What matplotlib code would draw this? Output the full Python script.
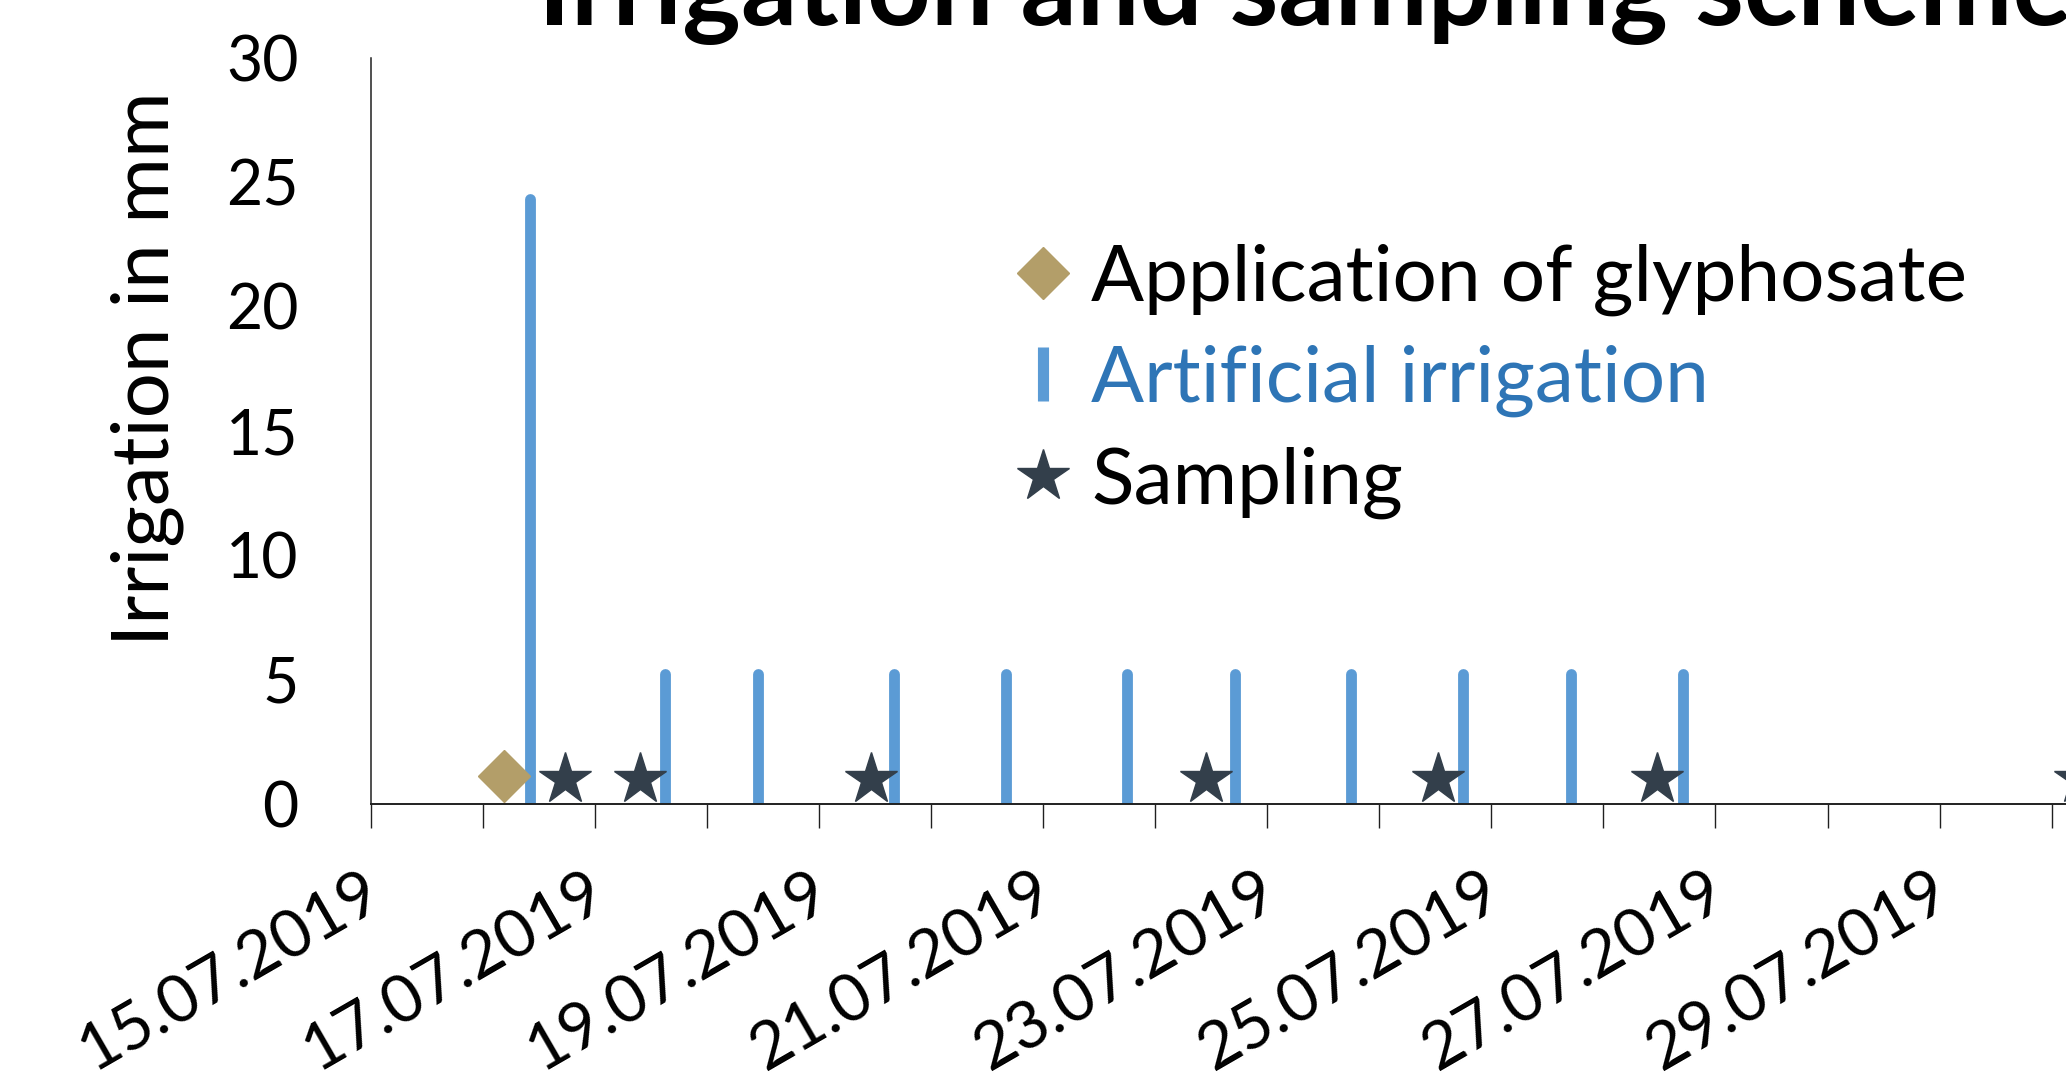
import matplotlib
matplotlib.use("Agg")
import matplotlib.pyplot as plt
import matplotlib.dates as mdates
import matplotlib.transforms as mtransforms
from matplotlib.lines import Line2D
import pandas as pd

plt.rcParams['font.family'] = ['Lato', 'DejaVu Sans']

# ---------------- data ----------------
title = "Irrigation and sampling scheme"
y_label = "Irrigation in mm"
legend_labels = ["Application of glyphosate", "Artificial irrigation", "Sampling"]

glyphosate_times = ["2019-07-16 04:30"]
glyphosate_y = [1.1]

irrigation_times = ["2019-07-16 10:00", "2019-07-17 15:00", "2019-07-18 11:00",
                    "2019-07-19 16:00", "2019-07-20 16:00", "2019-07-21 18:00",
                    "2019-07-22 17:00", "2019-07-23 18:00", "2019-07-24 18:00",
                    "2019-07-25 17:00", "2019-07-26 17:00"]
irrigation_mm = [24.3, 5.2, 5.2, 5.2, 5.2, 5.2, 5.2, 5.2, 5.2, 5.2, 5.2]

sampling_times = ["2019-07-16 17:30", "2019-07-17 09:40", "2019-07-19 11:00",
                  "2019-07-22 10:50", "2019-07-24 12:30", "2019-07-26 11:30",
                  "2019-07-30 06:00"]
sampling_y = [1, 1, 1, 1, 1, 1, 1]

x_start = "2019-07-15"
x_end = "2019-07-30 19:00"
y_ticks = [0, 5, 10, 15, 20, 25, 30]

# ---------------- style ----------------
c_diamond = "#B39E69"
c_bar = "#5B9BD5"
c_star = "#333F4B"
c_blue_text = "#2E75B6"

W, H = 2066, 1083
fig = plt.figure(figsize=(W / 100, H / 100), dpi=100)

px_per_day = 112.04
ax_left = 371.0
ax_bottom_px = 803.7
ax_top_px = 57.5

t0 = mdates.date2num(pd.Timestamp(x_start))
t1 = mdates.date2num(pd.Timestamp(x_end))
ax_w = (t1 - t0) * px_per_day
ax = fig.add_axes([ax_left / W, 1 - ax_bottom_px / H, ax_w / W, (ax_bottom_px - ax_top_px) / H])

g_x = mdates.date2num(pd.to_datetime(glyphosate_times))
i_x = mdates.date2num(pd.to_datetime(irrigation_times))
s_x = mdates.date2num(pd.to_datetime(sampling_times))

ax.vlines(i_x, 0, irrigation_mm, colors=c_bar, linewidth=7.8, capstyle='round', zorder=2)
ax.plot(g_x, glyphosate_y, ls='none', marker='D', ms=26.5, color=c_diamond, mec=c_diamond, zorder=3,
        clip_on=False)
ax.plot(s_x, sampling_y, ls='none', marker='*', ms=39, color=c_star, mec=c_star, zorder=3,
        clip_on=False)

ax.set_xlim(t0, t1)
ax.set_ylim(0, 30)

for s in ['top', 'right']:
    ax.spines[s].set_visible(False)
ax.spines['left'].set_linewidth(1.1)
ax.spines['bottom'].set_linewidth(1.4)
ax.spines['left'].set_color('#202020')
ax.spines['bottom'].set_color('#202020')

ax.set_yticks(y_ticks)
ax.set_yticklabels([str(v) for v in y_ticks])
ax.tick_params(axis='y', length=0, pad=52, labelsize=45)

day_ticks = pd.date_range(x_start, "2019-07-30", freq='D')
tick_pos = mdates.date2num(day_ticks)
tick_lbl = [d.strftime('%d.%m.%Y') if i % 2 == 0 else '' for i, d in enumerate(day_ticks)]
ax.set_xticks(tick_pos)
ax.set_xticklabels(tick_lbl, rotation=30, ha='right', va='top')
ax.tick_params(axis='x', length=17.3, width=1.0, pad=24, labelsize=47.5, direction='out',
               color='#202020')
shift = mtransforms.ScaledTranslation(20 / 100, 0, fig.dpi_scale_trans)
for lbl in ax.get_xticklabels():
    lbl.set_transform(lbl.get_transform() + shift)

fig.text(147 / W, 1 - 369 / H, y_label, rotation=90, ha='center', va='center', fontsize=57.5)
fig.text(538 / W, 1 - 25 / H, title, ha='left', va='baseline', fontsize=80, fontweight='bold')

handles = [
    Line2D([], [], ls='none', marker='D', ms=26.5, color=c_diamond),
    Line2D([], [], ls='none', marker='|', ms=39, mew=8, color=c_bar),
    Line2D([], [], ls='none', marker='*', ms=39, color=c_star),
]
leg = fig.legend(handles, legend_labels, loc='center left',
                 bbox_to_anchor=(1019 / W, 1 - 381 / H), bbox_transform=fig.transFigure,
                 frameon=False, fontsize=56.5, handlelength=0.62, handletextpad=0.3,
                 borderpad=0, labelspacing=0.37, borderaxespad=0)
for t, c in zip(leg.get_texts(), ['black', c_blue_text, 'black']):
    t.set_color(c)

fig.savefig("out.png", dpi=100)
